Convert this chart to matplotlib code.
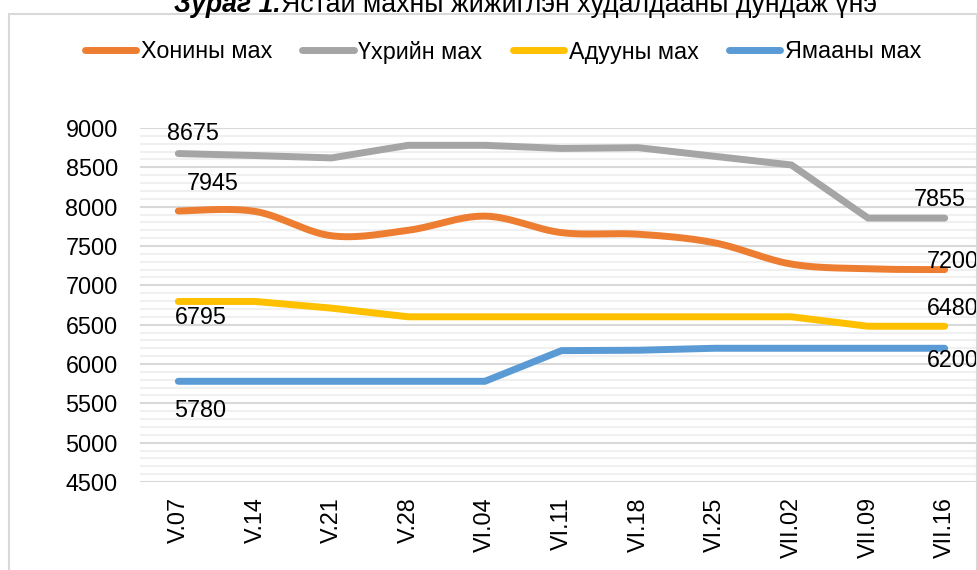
import numpy as np
import matplotlib.pyplot as plt
from matplotlib.patches import Rectangle

# data
weeks = ["V.07", "V.14", "V.21", "V.28", "VI.04", "VI.11", "VI.18", "VI.25", "VII.02", "VII.09", "VII.16"]
mutton = [7945, 7940, 7630, 7700, 7880, 7670, 7650, 7540, 7270, 7210, 7200]
beef = [8675, 8650, 8620, 8780, 8780, 8740, 8750, 8640, 8530, 7855, 7855]
horse = [6795, 6795, 6710, 6600, 6600, 6600, 6600, 6600, 6600, 6480, 6480]
goat = [5780, 5780, 5780, 5780, 5780, 6170, 6175, 6200, 6200, 6200, 6200]
names = ["Хонины мах", "Үхрийн мах", "Адууны мах", "Ямааны мах"]
colors = ["#ED7D31", "#A5A5A5", "#FFC000", "#5B9BD5"]

plt.rcParams['font.family'] = ['Liberation Sans', 'DejaVu Sans']
FS = 16.8


def smooth(xs, ys, n=30):
    # Excel style smoothed line (cubic bezier, Catmull-Rom tangents)
    P = np.column_stack([xs, ys]).astype(float)
    P = np.vstack([P[0], P, P[-1]])
    out = []
    t = np.linspace(0, 1, n)[:, None]
    for i in range(1, len(P) - 2):
        p0, p1, p2, p3 = P[i - 1], P[i], P[i + 1], P[i + 2]
        c1 = p1 + (p2 - p0) / 6
        c2 = p2 - (p3 - p1) / 6
        seg = (1 - t) ** 3 * p1 + 3 * (1 - t) ** 2 * t * c1 + 3 * (1 - t) * t ** 2 * c2 + t ** 3 * p2
        out.append(seg)
    out = np.vstack(out)
    return out[:, 0], out[:, 1]


W, H = 978, 570
fig = plt.figure(figsize=(W / 100, H / 100), dpi=100)

# chart frame
fig.patches.append(Rectangle((9 / W, -0.1), (977 - 9) / W, 1.1 - 14 / H, transform=fig.transFigure,
                             fill=False, edgecolor='#d9d9d9', linewidth=1.5))

ax = fig.add_axes([140 / W, (H - 482) / H, (983 - 140) / W, (482 - 128) / H])
x = np.arange(len(weeks))

sx, sy = smooth(x, mutton)
ax.plot(sx, sy, color=colors[0], lw=5, solid_capstyle='round', label=names[0])
ax.plot(x, beef, color=colors[1], lw=5, solid_capstyle='round', solid_joinstyle='miter', label=names[1])
ax.plot(x, horse, color=colors[2], lw=5, solid_capstyle='round', solid_joinstyle='miter', label=names[2])
ax.plot(x, goat, color=colors[3], lw=5, solid_capstyle='round', solid_joinstyle='miter', label=names[3])

ax.set_xlim(-0.5, len(weeks) - 0.5)
ax.set_ylim(4500, 9000)
ax.set_yticks(np.arange(4500, 9001, 500))
ax.set_yticks(np.arange(4500, 9001, 100), minor=True)
ax.grid(which='major', axis='y', color='#d9d9d9', lw=1.5, zorder=0)
ax.grid(which='minor', axis='y', color='#f0f0f0', lw=1.5, zorder=0)
ax.set_axisbelow(True)
for s in ax.spines.values():
    s.set_visible(False)
ax.set_xticks(x)
ax.set_xticklabels(weeks, rotation=90, fontsize=FS)
ax.tick_params(axis='x', length=0, pad=11)
ax.tick_params(axis='y', which='both', length=0, pad=16, labelsize=FS)

# data labels at first and last points
def lab(xi, v, dx, dy, ha='center'):
    ax.annotate(str(v), (xi, v), xytext=(dx, -dy), textcoords='offset pixels',
                ha=ha, va='center', fontsize=FS, annotation_clip=False)

last = len(weeks) - 1
lab(0, beef[0], 15, -20)
lab(0, mutton[0], 34, -27)
lab(0, horse[0], 22, 16)
lab(0, goat[0], 22, 29)
lab(last, beef[-1], -5, -19)
lab(last, mutton[-1], -18, -8, ha='left')
lab(last, horse[-1], -18, -18, ha='left')
lab(last, goat[-1], -18, 12, ha='left')

fig.legend(loc='center', bbox_to_anchor=(503 / W, 1 - 52 / H), ncol=4, frameon=False,
           fontsize=FS, handlelength=2.2, handletextpad=0.2, columnspacing=1.3, borderpad=0)

# title, cut at the top like the reference
TFS = 19.2
fig.text(281 / W, 1 - 12 / H, "Зураг 1.", ha='right', va='baseline', fontsize=TFS,
         fontweight='bold', fontstyle='italic')
fig.text(281 / W, 1 - 12 / H, "Ястай махны жижиглэн худалдааны дундаж үнэ", ha='left',
         va='baseline', fontsize=TFS)

fig.savefig("out.png", dpi=100)
